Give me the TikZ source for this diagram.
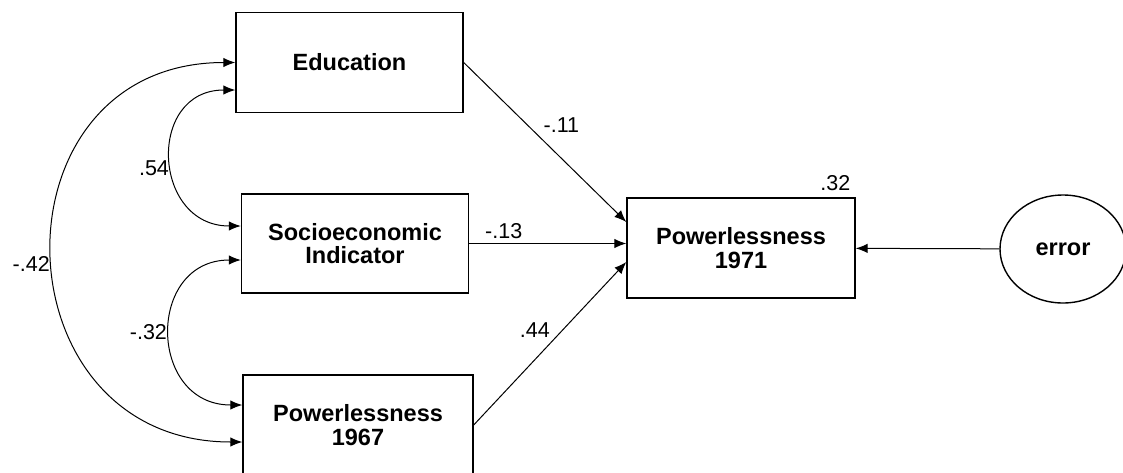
\documentclass[tikz,border=0pt]{standalone}
\usepackage{fontspec}
\setmainfont{Liberation Sans}
\usetikzlibrary{arrows.meta,positioning,shapes.geometric}

\begin{document}
\begin{tikzpicture}[->,>={Latex[length=12pt,width=9.5pt]},x=1pt,y=-1pt,line width=1pt]
   \tikzstyle{var}=[draw,rectangle,line width=1.4pt,minimum width=227pt,minimum height=100pt,inner sep=0pt,align=center,font=\fontsize{23.5}{23.5}\selectfont\bfseries]
   \tikzstyle{err}=[draw,ellipse,line width=1.4pt,minimum width=126pt,minimum height=108pt,inner sep=0pt,font=\fontsize{23.5}{23.5}\selectfont\bfseries]
   \tikzstyle{lab}=[font=\fontsize{21.5}{21.5}\selectfont,inner sep=1pt]
   \tikzstyle{cov}=[<->,out=180,in=180,looseness=1.67]

   \useasboundingbox (0,0) rectangle (1123,472);

   \node[var] (E) at (349.5,62.5) {Education};
   \node[var] (S) [node distance=181pt,below of=E,xshift=5.5pt,minimum height=99pt] {Socioeconomic\\Indicator};
   \node[var] (P) [node distance=181.5pt,below of=S,xshift=3pt,minimum width=230pt] {Powerlessness\\1967};
   \node[var] (Q) [node distance=386pt,right of=S,yshift=-4.5pt,minimum width=228pt] {Powerlessness\\1971};
   \node[err] (R) [node distance=322pt,right of=Q,yshift=-1pt] {error};

   \node[lab,anchor=south east] (Qr) at ([xshift=-4pt,yshift=5pt]Q.north east) {.32};

   \draw (E.east) -- node[lab,pos=.39,right=15pt] {-.11} ([yshift=26pt]Q.west);
   \draw (S.east) -- node[lab,pos=.22,above=3pt] {-.13} (S.east -| Q.west);
   \draw (P.east) -- node[lab,pos=.58,left=11pt] {.44} ([yshift=-14pt]Q.west);
   \draw (R) -- (Q);

   \draw[cov] ([yshift=-27.5pt]E.west) to node[lab,pos=.55,left=2pt] {.54} ([yshift=17.5pt]S.west);
   \draw[cov] ([yshift=-16.5pt]S.west) to node[lab,pos=.5,left=2pt] {-.32} ([yshift=20pt]P.west);
   \draw[cov] (E.west) to node[lab,pos=.52,left=2pt] {-.42} ([yshift=-17pt]P.west);
\end{tikzpicture}
\end{document}
